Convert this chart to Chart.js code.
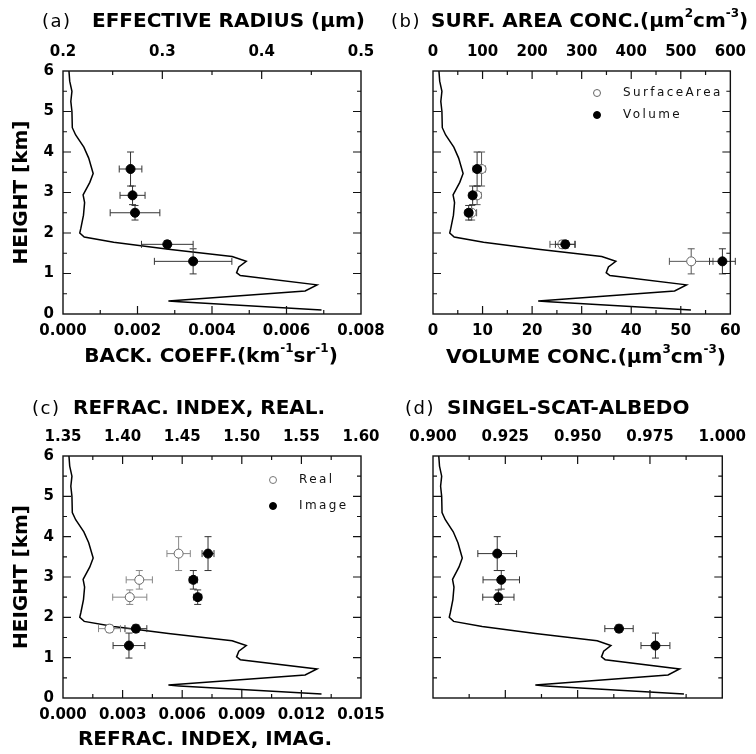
<!DOCTYPE html>
<html>
<head>
<meta charset="utf-8">
<script src="https://cdn.jsdelivr.net/npm/chart.js@4.4.0/dist/chart.umd.min.js"></script>
<style>
body{margin:0;background:#fff;width:756px;height:754px;position:relative;overflow:hidden}
canvas{position:absolute;left:0;top:0}
</style>
</head>
<body>
<canvas id="pa" width="756" height="754"></canvas>
<canvas id="pb" width="756" height="754"></canvas>
<canvas id="pc" width="756" height="754"></canvas>
<canvas id="pd" width="756" height="754"></canvas>
<script>
// backscatter profile (same in every panel)
const profileHeight = [6.0, 5.75, 5.5, 5.25, 5.0, 4.6, 4.42, 4.12, 3.85, 3.47, 3.25, 2.94, 2.75, 2.44, 2.12, 2.0, 1.9, 1.77, 1.6, 1.42, 1.3, 1.16, 1.02, 0.95, 0.72, 0.57, 0.32, 0.3, 0.1];
const profileBack = [0.00016, 0.00018, 0.00024, 0.00021, 0.00024, 0.00025, 0.00034, 0.00056, 0.00069, 0.00081, 0.00072, 0.00054, 0.00058, 0.00055, 0.00048, 0.00045, 0.00057, 0.00136, 0.00283, 0.00454, 0.00492, 0.00472, 0.00466, 0.00476, 0.00682, 0.0065, 0.00283, 0.00312, 0.00694];

// retrieval heights
const heights = [3.58, 2.93, 2.5, 1.72, 1.3];
const heightErr = [0.42, 0.23, 0.18, 0.09, 0.31];

// (a)
const radius = [0.268, 0.270, 0.2725, 0.305, 0.331];
const radiusErr = [0.0114, 0.0126, 0.025, 0.026, 0.039];
// (b)
const surfArea = [98, 89, 78, 261, 521];
const surfAreaErr = [8, 8, 10, 25, 44];
const volume = [8.9, 8.0, 7.2, 26.7, 58.4];
const volumeErr = [0.8, 0.7, 0.7, 2.0, 2.6];
// (c)
const refReal = [1.447, 1.414, 1.406, 1.389];
const refRealErr = [0.0098, 0.011, 0.0143, 0.0092];
const refImag = [0.0073, 0.00656, 0.00678, 0.00367, 0.00332];
const refImagErr = [0.0003, 0.0002, 0.0002, 0.00055, 0.0008];
// (d)
const ssa = [0.9222, 0.9236, 0.9226, 0.9643, 0.9769];
const ssaErr = [0.0067, 0.0063, 0.0054, 0.0049, 0.005];

// tick labels
const heightTicks = [0, 1, 2, 3, 4, 5, 6];
const backTicks = [0, 0.002, 0.004, 0.006, 0.008];
const radiusTicks = [0.2, 0.3, 0.4, 0.5];
const volumeTicks = [0, 10, 20, 30, 40, 50, 60];
const surfTicks = [0, 100, 200, 300, 400, 500, 600];
const imagTicks = [0, 0.003, 0.006, 0.009, 0.012, 0.015];
const realTicks = [1.35, 1.40, 1.45, 1.50, 1.55, 1.60];
const ssaTicks = [0.900, 0.925, 0.950, 0.975, 1.000];

const FONT = 'DejaVu Sans';
const tickFont = {family: FONT, size: 15, weight: 'bold'};

function pts(xs, ys) { return xs.map((v, i) => ({x: v, y: ys[i]})); }

function rich(ctx, segs, x, y, size, spacing, align) {
  const parts = segs.map(s => {
    const f = s[1] ? Math.round(size * 0.6) : size;
    ctx.font = 'bold ' + f + 'px "' + FONT + '"';
    ctx.letterSpacing = (s[1] ? 0 : spacing) + 'px';
    return {t: s[0], sup: s[1], f: f, w: ctx.measureText(s[0]).width};
  });
  const total = parts.reduce((a, p) => a + p.w, 0);
  let cx = align === 'center' ? x - total / 2 : x;
  ctx.textAlign = 'left';
  ctx.textBaseline = 'middle';
  parts.forEach(p => {
    ctx.font = 'bold ' + p.f + 'px "' + FONT + '"';
    ctx.letterSpacing = (p.sup ? 0 : spacing) + 'px';
    ctx.fillText(p.t, cx, p.sup ? y - size * 0.4 : y);
    cx += p.w;
  });
  ctx.letterSpacing = '0px';
}

function innerTicks(ctx, scale, minor, major, side, area) {
  const n = Math.round((scale.max - scale.min) / minor);
  ctx.beginPath();
  for (let i = 1; i < n; i++) {
    const v = scale.min + i * minor;
    const q = (v - scale.min) / major;
    const len = Math.abs(q - Math.round(q)) < 1e-6 ? 8 : 4;
    const p = scale.getPixelForValue(v);
    if (side === 'bottom') { ctx.moveTo(p, area.bottom); ctx.lineTo(p, area.bottom - len); }
    if (side === 'top') { ctx.moveTo(p, area.top); ctx.lineTo(p, area.top + len); }
    if (side === 'y') {
      ctx.moveTo(area.left, p); ctx.lineTo(area.left + len, p);
      ctx.moveTo(area.right, p); ctx.lineTo(area.right - len, p);
    }
  }
  ctx.stroke();
}

function decor(p) {
  return {
    id: 'decor',
    beforeDatasetDraw(chart, args) {
      const ds = chart.data.datasets[args.index];
      if (!ds.xErr) return;
      const ctx = chart.ctx;
      const sx = chart.scales[ds.xAxisID], sy = chart.scales[ds.yAxisID];
      ctx.save();
      ctx.strokeStyle = ds.errColor;
      ctx.lineWidth = 1;
      ctx.beginPath();
      ds.data.forEach((pt, i) => {
        const px = sx.getPixelForValue(pt.x), py = sy.getPixelForValue(pt.y);
        const x0 = sx.getPixelForValue(pt.x - ds.xErr[i]), x1 = sx.getPixelForValue(pt.x + ds.xErr[i]);
        const y0 = sy.getPixelForValue(pt.y - ds.yErr[i]), y1 = sy.getPixelForValue(pt.y + ds.yErr[i]);
        ctx.moveTo(x0, py); ctx.lineTo(x1, py);
        ctx.moveTo(x0, py - 3.5); ctx.lineTo(x0, py + 3.5);
        ctx.moveTo(x1, py - 3.5); ctx.lineTo(x1, py + 3.5);
        ctx.moveTo(px, y0); ctx.lineTo(px, y1);
        ctx.moveTo(px - 3.5, y0); ctx.lineTo(px + 3.5, y0);
        ctx.moveTo(px - 3.5, y1); ctx.lineTo(px + 3.5, y1);
      });
      ctx.stroke();
      ctx.restore();
    },
    afterDraw(chart) {
      const ctx = chart.ctx, a = chart.chartArea;
      ctx.save();
      ctx.strokeStyle = '#111';
      ctx.lineWidth = 1.4;
      ctx.strokeRect(a.left, a.top, a.right - a.left, a.bottom - a.top);
      ctx.lineWidth = 1.2;
      innerTicks(ctx, chart.scales.x, p.xMinor, p.xMajor, 'bottom', a);
      innerTicks(ctx, chart.scales.x2, p.x2Minor, p.x2Major, 'top', a);
      innerTicks(ctx, chart.scales.y, 0.5, 1, 'y', a);
      ctx.fillStyle = '#000';
      // panel letter
      ctx.font = '18px "' + FONT + '"';
      ctx.letterSpacing = '1.5px';
      ctx.textAlign = 'left';
      ctx.textBaseline = 'middle';
      ctx.fillText(p.label, p.labelX, p.titleY);
      rich(ctx, p.title, p.titleX, p.titleY, 20, 0, 'left');
      if (p.bottom) rich(ctx, p.bottom, p.bottomX, p.bottomY, 20, 0, 'center');
      if (p.yTitle) {
        ctx.save();
        ctx.translate(22, (a.top + a.bottom) / 2);
        ctx.rotate(-Math.PI / 2);
        rich(ctx, [['HEIGHT [km]']], 0, 0, 20, 0, 'center');
        ctx.restore();
      }
      if (p.legend) {
        p.legend.forEach(item => {
          ctx.beginPath();
          ctx.arc(item.x, item.y, 3.5, 0, Math.PI * 2);
          ctx.fillStyle = item.fill;
          ctx.fill();
          ctx.strokeStyle = item.stroke;
          ctx.lineWidth = 1;
          ctx.stroke();
          ctx.fillStyle = '#111';
          ctx.font = '12px "' + FONT + '"';
          ctx.letterSpacing = '2.4px';
          ctx.textAlign = 'left';
          ctx.fillText(item.text, item.x + 26, item.y);
        });
      }
      ctx.restore();
    }
  };
}

function makePanel(id, p) {
  const fmt = d => v => Number(v).toFixed(d);
  const datasets = [{
    data: pts(profileBack, profileHeight),
    xAxisID: p.lineAxis, yAxisID: 'y',
    showLine: true, borderColor: '#000', borderWidth: 1.5,
    pointRadius: 0, tension: 0, order: 5
  }];
  p.sets.forEach(s => datasets.push({
    data: pts(s.x, s.y), xAxisID: s.axis, yAxisID: 'y',
    xErr: s.xErr, yErr: s.yErr, errColor: s.errColor,
    pointRadius: 4.5, pointBorderWidth: 1,
    pointBackgroundColor: s.open ? '#fff' : '#000',
    pointBorderColor: s.open ? '#666' : '#000',
    order: s.open ? 2 : 1
  }));
  const scales = {
    y: {
      type: 'linear', position: 'left', min: 0, max: 6,
      afterBuildTicks: s => { s.ticks = heightTicks.map(v => ({value: v})); },
      ticks: {display: p.yLabels, font: tickFont, color: '#000', padding: 9},
      grid: {display: false, drawTicks: false}, border: {display: false},
      afterFit: s => { s.width = p.l; }
    },
    x: {
      type: 'linear', position: 'bottom', min: p.xMin, max: p.xMax,
      afterBuildTicks: s => { s.ticks = p.xTicks.map(v => ({value: v})); },
      ticks: {display: p.xLabels, font: tickFont, color: '#000', padding: 8, maxRotation: 0, callback: fmt(p.xDec)},
      grid: {display: false, drawTicks: false}, border: {display: false},
      afterFit: s => { s.height = 754 - p.b; }
    },
    x2: {
      type: 'linear', position: 'top', min: p.x2Min, max: p.x2Max,
      afterBuildTicks: s => { s.ticks = p.x2Ticks.map(v => ({value: v})); },
      ticks: {font: tickFont, color: '#000', padding: 10, maxRotation: 0, callback: fmt(p.x2Dec)},
      grid: {display: false, drawTicks: false}, border: {display: false},
      afterFit: s => { s.height = p.t; }
    }
  };
  if (p.lineAxis === 'xb') {
    scales.xb = {type: 'linear', position: 'bottom', display: false, min: 0, max: 0.008};
  }
  new Chart(document.getElementById(id), {
    type: 'scatter',
    data: {datasets: datasets},
    options: {
      responsive: false, animation: false,
      layout: {padding: {left: 0, top: 0, right: 756 - p.r, bottom: 0}},
      plugins: {legend: {display: false}, tooltip: {enabled: false}},
      scales: scales
    },
    plugins: [decor(p)]
  });
}

makePanel('pa', {
  l: 63, t: 71, r: 361, b: 314,
  xMin: 0, xMax: 0.008, xTicks: backTicks, xDec: 3, xLabels: true, xMinor: 0.001, xMajor: 0.002,
  x2Min: 0.2, x2Max: 0.5, x2Ticks: radiusTicks, x2Dec: 1, x2Minor: 0.05, x2Major: 0.1,
  yLabels: true, yTitle: true, lineAxis: 'x',
  label: '(a)', labelX: 42, title: [['EFFECTIVE RADIUS (μm)']], titleX: 92, titleY: 22,
  bottom: [['BACK. COEFF.(km'], ['-1', 1], ['sr'], ['-1', 1], [')']], bottomX: 211, bottomY: 357,
  sets: [{x: radius, y: heights, axis: 'x2', xErr: radiusErr, yErr: heightErr, errColor: '#333', open: false}]
});

makePanel('pb', {
  l: 433, t: 71, r: 731, b: 314,
  xMin: 0, xMax: 60, xTicks: volumeTicks, xDec: 0, xLabels: true, xMinor: 5, xMajor: 10,
  x2Min: 0, x2Max: 600, x2Ticks: surfTicks, x2Dec: 0, x2Minor: 50, x2Major: 100,
  yLabels: false, yTitle: false, lineAxis: 'xb',
  label: '(b)', labelX: 391, title: [['SURF. AREA CONC.(μm'], ['2', 1], ['cm'], ['-3', 1], [')']], titleX: 431, titleY: 22,
  bottom: [['VOLUME CONC.(μm'], ['3', 1], ['cm'], ['-3', 1], [')']], bottomX: 586, bottomY: 358,
  legend: [
    {x: 597, y: 93, text: 'SurfaceArea', fill: '#fff', stroke: '#666'},
    {x: 597, y: 115, text: 'Volume', fill: '#000', stroke: '#000'}
  ],
  sets: [
    {x: surfArea, y: heights, axis: 'x2', xErr: surfAreaErr, yErr: heightErr, errColor: '#555', open: true},
    {x: volume, y: heights, axis: 'x', xErr: volumeErr, yErr: heightErr, errColor: '#333', open: false}
  ]
});

makePanel('pc', {
  l: 63, t: 456, r: 361, b: 698,
  xMin: 0, xMax: 0.015, xTicks: imagTicks, xDec: 3, xLabels: true, xMinor: 0.0015, xMajor: 0.003,
  x2Min: 1.35, x2Max: 1.60, x2Ticks: realTicks, x2Dec: 2, x2Minor: 0.025, x2Major: 0.05,
  yLabels: true, yTitle: true, lineAxis: 'xb',
  label: '(c)', labelX: 32, title: [['REFRAC. INDEX, REAL.']], titleX: 73, titleY: 409,
  bottom: [['REFRAC. INDEX, IMAG.']], bottomX: 205, bottomY: 740,
  legend: [
    {x: 273, y: 480, text: 'Real', fill: '#fff', stroke: '#777'},
    {x: 273, y: 506, text: 'Image', fill: '#000', stroke: '#000'}
  ],
  sets: [
    {x: refReal, y: heights.slice(0, 4), axis: 'x2', xErr: refRealErr, yErr: heightErr, errColor: '#888', open: true},
    {x: refImag, y: heights, axis: 'x', xErr: refImagErr, yErr: heightErr, errColor: '#333', open: false}
  ]
});

makePanel('pd', {
  l: 433, t: 456, r: 731, b: 698,
  xMin: 0, xMax: 0.008, xTicks: backTicks, xDec: 3, xLabels: false, xMinor: 0.001, xMajor: 0.002,
  x2Min: 0.9, x2Max: 1.0, x2Ticks: ssaTicks, x2Dec: 3, x2Minor: 0.0125, x2Major: 0.025,
  yLabels: false, yTitle: false, lineAxis: 'x',
  label: '(d)', labelX: 405, title: [['SINGEL-SCAT-ALBEDO']], titleX: 447, titleY: 409,
  sets: [{x: ssa, y: heights, axis: 'x2', xErr: ssaErr, yErr: heightErr, errColor: '#333', open: false}]
});
</script>
</body>
</html>
